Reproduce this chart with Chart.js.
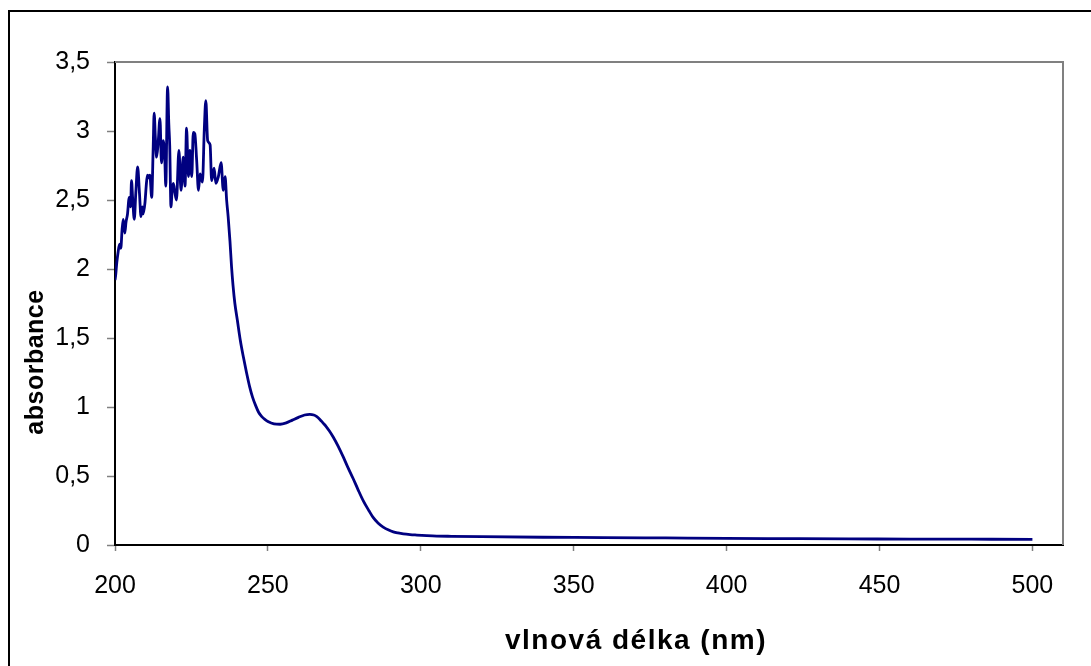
<!DOCTYPE html>
<html>
<head>
<meta charset="utf-8">
<script src="https://cdn.jsdelivr.net/npm/chart.js@4.4.1/dist/chart.umd.min.js"></script>
<style>
  html, body { margin: 0; padding: 0; background: #fff; overflow: hidden; }
  #wrap { position: relative; width: 1091px; height: 666px; }
  #frame { position: absolute; left: 8px; top: 10px; width: 2000px; height: 2000px;
           border-left: 2px solid #000; border-top: 2px solid #000; pointer-events: none; }
  canvas { position: absolute; left: 0; top: 0; }
</style>
</head>
<body>
<div id="wrap">
  <canvas id="c" width="1091" height="666"></canvas>
  <div id="frame"></div>
</div>
<script>
// ---- data ----
const wavelength = [
  200.0,200.2,200.6,201.0,201.5,201.9,202.3,202.7,203.2,203.6,204.1,204.5,204.8,205.1,205.4,205.8,
  206.3,206.8,207.4,208.0,208.5,208.9,209.2,209.8,210.2,210.6,211.0,211.4,212.0,212.5,212.8,213.2,
  213.6,214.1,214.7,215.2,215.8,216.3,216.6,217.2,217.6,217.9,218.3,218.7,219.1,219.6,220.1,220.9,
  221.6,222.3,222.9,223.4,224.0,224.5,225.1,225.6,226.1,226.7,227.3,227.8,228.6,229.2,229.7,230.3,
  231.1,231.6,232.4,233.0,233.8,234.7,235.4,236.0,236.5,237.0,237.6,238.1,238.6,239.2,240.0,241.0,
  242.0,243.0,244.0,245.0,246.0,247.0,248.0,249.0,250.0,252.0,254.0,256.0,258.0,260.0,262.0,263.7,
  265.0,266.0,267.0,268.0,269.0,270.0,271.3,273.0,274.6,276.0,277.9,279.5,281.2,283.0,284.4,286.0,
  287.7,289.5,291.0,292.5,294.3,296.5,298.7,302.0,305.2,310,320,340,360,380,400,420,
  440,460,480,500
];
const absorbance = [
  1.92,1.95,2.05,2.12,2.18,2.15,2.28,2.36,2.26,2.34,2.40,2.50,2.52,2.45,2.64,2.50,
  2.36,2.55,2.74,2.55,2.38,2.45,2.40,2.48,2.60,2.68,2.66,2.68,2.52,2.89,3.13,2.95,
  2.81,2.91,3.09,2.77,2.93,2.79,2.60,3.32,3.05,2.89,2.45,2.58,2.62,2.55,2.50,2.86,
  2.57,2.81,2.60,3.02,2.67,2.86,2.67,2.99,2.98,2.79,2.57,2.69,2.63,3.01,3.22,2.93,
  2.90,2.64,2.73,2.62,2.67,2.77,2.57,2.67,2.50,2.38,2.20,2.02,1.88,1.75,1.63,1.48,
  1.36,1.25,1.15,1.07,1.01,0.96,0.93,0.91,0.895,0.878,0.875,0.885,0.905,0.925,0.942,0.947,
  0.942,0.93,0.91,0.885,0.86,0.83,0.785,0.715,0.64,0.57,0.48,0.40,0.32,0.25,0.20,0.16,
  0.13,0.108,0.095,0.087,0.08,0.075,0.072,0.068,0.065,0.063,0.060,0.056,0.054,0.051,0.048,0.046,
  0.044,0.043,0.042,0.041
];
const xTickValues = [200, 250, 300, 350, 400, 450, 500];
const xTickLabels = ['200', '250', '300', '350', '400', '450', '500'];
const yTickValues = [0, 0.5, 1, 1.5, 2, 2.5, 3, 3.5];
const yTickLabels = ['0', '0,5', '1', '1,5', '2', '2,5', '3', '3,5'];
const xTitle = 'vlnová délka (nm)';
const yTitle = 'absorbance';

const points = wavelength.map((w, i) => ({ x: w, y: absorbance[i] }));
const FONT = "'Liberation Sans', Arial, sans-serif";

const frameAndTitles = {
  id: 'frameAndTitles',
  beforeDatasetsDraw(chart) {
    const { ctx, chartArea: a } = chart;
    ctx.save();
    ctx.strokeStyle = '#808080';
    ctx.lineWidth = 2;
    ctx.beginPath();
    ctx.moveTo(a.left, a.top);
    ctx.lineTo(a.right, a.top);
    ctx.lineTo(a.right, a.bottom);
    ctx.stroke();
    ctx.restore();
  },
  afterDraw(chart) {
    const { ctx } = chart;
    ctx.save();
    ctx.fillStyle = '#000';
    ctx.textAlign = 'center';
    ctx.textBaseline = 'alphabetic';
    ctx.font = "bold 28px " + FONT;
    ctx.letterSpacing = '1.5px';
    ctx.fillText(xTitle, 636, 649);
    ctx.font = "bold 25px " + FONT;
    ctx.letterSpacing = '0.5px';
    ctx.translate(43, 362);
    ctx.rotate(-Math.PI / 2);
    ctx.fillText(yTitle, 0, 0);
    ctx.restore();
  }
};

new Chart(document.getElementById('c'), {
  type: 'scatter',
  data: {
    datasets: [{
      data: points,
      showLine: true,
      borderColor: '#000080',
      borderWidth: 2.8,
      pointRadius: 0,
      cubicInterpolationMode: 'monotone',
      fill: false
    }]
  },
  options: {
    responsive: false,
    animation: false,
    devicePixelRatio: 1,
    layout: { padding: { top: 62, right: 28, left: 0, bottom: 0 } },
    plugins: { legend: { display: false }, tooltip: { enabled: false } },
    scales: {
      x: {
        type: 'linear',
        min: 200,
        max: 510,
        afterFit(s) { s.height = 121; },
        afterBuildTicks(s) { s.ticks = xTickValues.map(v => ({ value: v })); },
        border: { display: true, color: '#000', width: 2 },
        grid: { display: true, drawOnChartArea: false, drawTicks: true, tickLength: 6, color: '#808080', tickWidth: 1.5 },
        ticks: {
          color: '#000',
          font: { family: FONT, size: 25 },
          padding: 20,
          maxRotation: 0,
          autoSkip: false,
          callback(v) { const i = xTickValues.indexOf(v); return i >= 0 ? xTickLabels[i] : ''; }
        }
      },
      y: {
        type: 'linear',
        min: 0,
        max: 3.5,
        afterFit(s) { s.width = 115; },
        afterBuildTicks(s) { s.ticks = yTickValues.map(v => ({ value: v })); },
        border: { display: true, color: '#000', width: 2 },
        grid: { display: true, drawOnChartArea: false, drawTicks: true, tickLength: 8, color: '#808080', tickWidth: 1.5 },
        ticks: {
          color: '#000',
          font: { family: FONT, size: 25 },
          padding: 17,
          autoSkip: false,
          callback(v) { const i = yTickValues.indexOf(v); return i >= 0 ? yTickLabels[i] : ''; }
        }
      }
    }
  },
  plugins: [frameAndTitles]
});
</script>
</body>
</html>
